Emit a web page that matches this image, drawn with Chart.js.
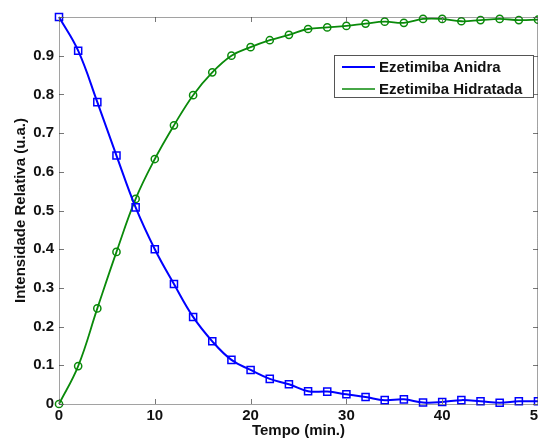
<!DOCTYPE html>
<html>
<head>
<meta charset="utf-8">
<script src="https://cdn.jsdelivr.net/npm/chart.js@4.4.0/dist/chart.umd.min.js"></script>
<style>
html,body{margin:0;padding:0;background:#fff;overflow:hidden;width:538px;height:438px;}
#wrap{position:absolute;left:0;top:0;width:560px;height:445px;}
</style>
</head>
<body>
<div id="wrap"><canvas id="c" width="560" height="445"></canvas></div>
<script>
const tempo = [0,2,4,6,8,10,12,14,16,18,20,22,24,26,28,30,32,34,36,38,40,42,44,46,48,50];
const anidra = [1.0,0.913,0.78,0.642,0.508,0.40,0.31,0.225,0.162,0.114,0.088,0.065,0.051,0.033,0.032,0.025,0.018,0.010,0.012,0.004,0.005,0.010,0.007,0.003,0.007,0.007];
const hidratada = [0.0,0.098,0.247,0.393,0.530,0.633,0.720,0.798,0.857,0.900,0.922,0.940,0.954,0.969,0.973,0.977,0.983,0.988,0.985,0.995,0.995,0.989,0.992,0.995,0.992,0.993];
const seriesNames = ['Ezetimiba Anidra','Ezetimiba Hidratada'];
const xTicks = [0,10,20,30,40,50];
const yTicks = [0,0.1,0.2,0.3,0.4,0.5,0.6,0.7,0.8,0.9,1.0];
const xTitle = 'Tempo (min.)';
const yTitle = 'Intensidade Relativa (u.a.)';

const FONT = 'Arial, "Liberation Sans", sans-serif';
const BLUE = '#0000ff', GREEN = '#0a8a0a';

const boxPlugin = {
  id:'boxPlugin',
  afterDraw(chart){
    const {ctx, chartArea:a, scales} = chart;
    ctx.save();
    ctx.strokeStyle = '#777';
    ctx.lineWidth = 1;
    ctx.setLineDash([]);
    xTicks.forEach(v=>{
      const x = Math.round(scales.x.getPixelForValue(v))+0.5;
      ctx.beginPath();
      ctx.moveTo(x,a.bottom); ctx.lineTo(x,a.bottom-5);
      ctx.moveTo(x,a.top); ctx.lineTo(x,a.top+5);
      ctx.stroke();
    });
    yTicks.forEach(v=>{
      const y = Math.round(scales.y.getPixelForValue(v))+0.5;
      ctx.beginPath();
      ctx.moveTo(a.left,y); ctx.lineTo(a.left+5,y);
      ctx.moveTo(a.right,y); ctx.lineTo(a.right-5,y);
      ctx.stroke();
    });
    ctx.strokeStyle = '#444';
    ctx.setLineDash([1,1]);
    ctx.strokeRect(Math.round(a.left)+0.5, Math.round(a.top)+0.5, Math.round(a.right-a.left)-1, Math.round(a.bottom-a.top));
    ctx.setLineDash([]);
    const bx=334, by=55, bw=199, bh=42;
    ctx.fillStyle='#fff';
    ctx.fillRect(bx,by,bw,bh);
    ctx.strokeStyle='#555';
    ctx.lineWidth=1;
    ctx.strokeRect(bx+0.5,by+0.5,bw,bh);
    const rows=[{c:BLUE,w:2,y:67},{c:GREEN,w:1.5,y:89}];
    ctx.font='bold 15px '+FONT;
    ctx.textBaseline='middle';
    ctx.textAlign='left';
    rows.forEach((r,i)=>{
      ctx.strokeStyle=r.c; ctx.lineWidth=r.w;
      ctx.beginPath(); ctx.moveTo(342,r.y); ctx.lineTo(375,r.y); ctx.stroke();
      ctx.fillStyle='#111';
      ctx.fillText(seriesNames[i],379,r.y+1);
    });
    ctx.restore();
  }
};

new Chart(document.getElementById('c'),{
  type:'line',
  data:{
    datasets:[
      {label:seriesNames[0], data:tempo.map((t,i)=>({x:t,y:anidra[i]})), borderColor:BLUE, borderWidth:2,
       pointStyle:'rect', pointRadius:5, pointBorderWidth:1.5, pointBorderColor:BLUE, pointBackgroundColor:'rgba(0,0,0,0)',
       tension:0.4, fill:false, clip:false},
      {label:seriesNames[1], data:tempo.map((t,i)=>({x:t,y:hidratada[i]})), borderColor:GREEN, borderWidth:1.8,
       pointStyle:'circle', pointRadius:3.6, pointBorderWidth:1.5, pointBorderColor:GREEN, pointBackgroundColor:'rgba(0,0,0,0)',
       tension:0.4, fill:false, clip:false}
    ]
  },
  options:{
    responsive:false,
    animation:false,
    devicePixelRatio:1,
    layout:{padding:{left:0,top:17,right:22,bottom:0}},
    plugins:{legend:{display:false}, tooltip:{enabled:false}},
    scales:{
      x:{type:'linear', min:0, max:50,
        afterBuildTicks(s){ s.ticks = xTicks.map(v=>({value:v})); },
        afterFit(s){ s.height = 41; },
        grid:{display:false, drawTicks:false}, border:{display:false},
        ticks:{padding:3, color:'#111', font:{family:FONT, size:15, weight:'bold'}, maxRotation:0, autoSkip:false},
        title:{display:true, text:xTitle, color:'#111', font:{family:FONT, size:15, weight:'bold'}, padding:{top:0,bottom:5}}
      },
      y:{type:'linear', min:0, max:1,
        afterBuildTicks(s){ s.ticks = yTicks.map(v=>({value:v})); },
        afterFit(s){ s.width = 59; },
        grid:{display:false, drawTicks:false}, border:{display:false},
        ticks:{padding:5, color:'#111', font:{family:FONT, size:15, weight:'bold'},
          callback:(v)=> (Math.abs(v-1)<1e-9 ? '' : (v===0 ? '0' : (+v.toFixed(1)).toString()))},
        title:{display:true, text:yTitle, color:'#111', font:{family:FONT, size:15, weight:'bold'}, padding:{top:12,bottom:0}}
      }
    }
  },
  plugins:[boxPlugin]
});
</script>
</body>
</html>
